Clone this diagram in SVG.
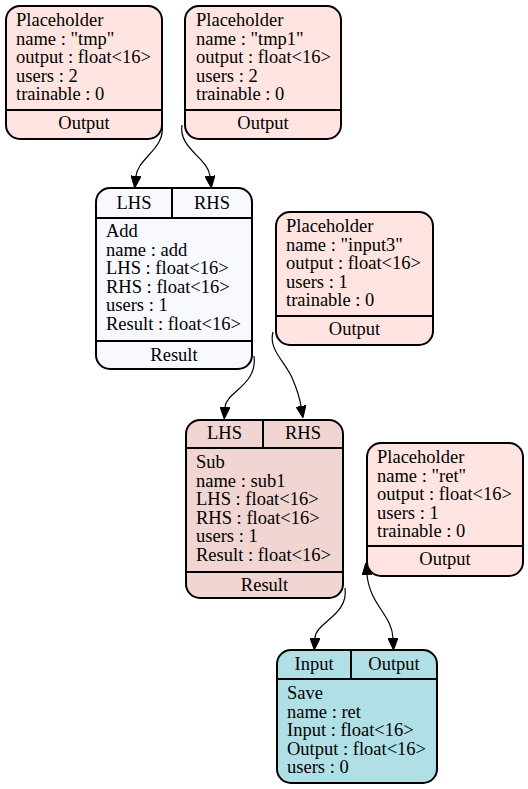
<svg xmlns="http://www.w3.org/2000/svg" width="528" height="789" viewBox="0 0 528 789">
<style>
.box{stroke:#000;stroke-width:2;}
.ph{fill:#ffe4e1;}
.add{fill:#f8f8ff;}
.sub{fill:#f0d5d2;}
.save{fill:#b0e0e6;}
.div{stroke:#000;stroke-width:2;fill:none;}
text{font-family:"Liberation Serif","Times New Roman",serif;font-size:18.5px;fill:#000;}
.c{text-anchor:middle;}
.edge{fill:none;stroke:#000;stroke-width:1.2;}
</style>
<defs>
<marker id="arr" viewBox="0 0 12 10" refX="0" refY="5" markerWidth="12" markerHeight="10" markerUnits="userSpaceOnUse" orient="auto-start-reverse">
<path d="M0,0 L12,5 L0,10 z" fill="#000" stroke="#000" stroke-width="1"/>
</marker>
</defs>
<rect width="528" height="789" fill="#fff"/>
<g id="edges">
<path class="edge" d="M162,125 C166,148 138,158 136,176" marker-end="url(#arr)"/>
<path class="edge" d="M182,125 C178,148 208,158 210,176" marker-end="url(#arr)"/>
<path class="edge" d="M254,356 C258,385 226,392 225,407" marker-end="url(#arr)"/>
<path class="edge" d="M273,332 C268,350 286,362 293,380 C298,392 300,400 301,406" marker-end="url(#arr)"/>
<path class="edge" d="M345,588 C349,615 316,622 315,638" marker-end="url(#arr)"/>
<path class="edge" d="M367,575 C370,605 392,615 393,638" marker-start="url(#arr)" marker-end="url(#arr)"/>
</g>
<g id="tmp">
<rect class="box ph" x="6" y="6" width="156" height="133" rx="14"/>
<line class="div" x1="6" y1="110" x2="162" y2="110"/>
<text x="16" y="26">Placeholder</text>
<text x="16" y="44.6">name : "tmp"</text>
<text x="16" y="63.2">output : float&lt;16&gt;</text>
<text x="16" y="81.8">users : 2</text>
<text x="16" y="100.4">trainable : 0</text>
<text class="c" x="84" y="129">Output</text>
</g>
<g id="tmp1">
<rect class="box ph" x="185" y="6" width="156" height="133" rx="14"/>
<line class="div" x1="185" y1="110" x2="341" y2="110"/>
<text x="196" y="26">Placeholder</text>
<text x="196" y="44.6">name : "tmp1"</text>
<text x="196" y="63.2">output : float&lt;16&gt;</text>
<text x="196" y="81.8">users : 2</text>
<text x="196" y="100.4">trainable : 0</text>
<text class="c" x="263" y="129">Output</text>
</g>
<g id="add">
<rect class="box add" x="96" y="188" width="156" height="181" rx="14"/>
<line class="div" x1="96" y1="218" x2="252" y2="218"/>
<line class="div" x1="172" y1="188" x2="172" y2="218"/>
<line class="div" x1="96" y1="341" x2="252" y2="341"/>
<text class="c" x="134" y="209">LHS</text>
<text class="c" x="212" y="209">RHS</text>
<text x="106" y="237">Add</text>
<text x="106" y="255.6">name : add</text>
<text x="106" y="274.2">LHS : float&lt;16&gt;</text>
<text x="106" y="292.8">RHS : float&lt;16&gt;</text>
<text x="106" y="311.4">users : 1</text>
<text x="106" y="330">Result : float&lt;16&gt;</text>
<text class="c" x="174" y="361">Result</text>
</g>
<g id="input3">
<rect class="box ph" x="276" y="212" width="157" height="133" rx="14"/>
<line class="div" x1="276" y1="316" x2="433" y2="316"/>
<text x="286" y="232">Placeholder</text>
<text x="286" y="250.6">name : "input3"</text>
<text x="286" y="269.2">output : float&lt;16&gt;</text>
<text x="286" y="287.8">users : 1</text>
<text x="286" y="306.4">trainable : 0</text>
<text class="c" x="354.5" y="335">Output</text>
</g>
<g id="sub1">
<rect class="box sub" x="186" y="420" width="157" height="178" rx="14"/>
<line class="div" x1="186" y1="448" x2="343" y2="448"/>
<line class="div" x1="263" y1="420" x2="263" y2="448"/>
<line class="div" x1="186" y1="572" x2="343" y2="572"/>
<text class="c" x="224.5" y="439">LHS</text>
<text class="c" x="303" y="439">RHS</text>
<text x="196" y="468">Sub</text>
<text x="196" y="486.6">name : sub1</text>
<text x="196" y="505.2">LHS : float&lt;16&gt;</text>
<text x="196" y="523.8">RHS : float&lt;16&gt;</text>
<text x="196" y="542.4">users : 1</text>
<text x="196" y="561">Result : float&lt;16&gt;</text>
<text class="c" x="264.5" y="591">Result</text>
</g>
<g id="ret">
<rect class="box ph" x="367" y="443" width="156" height="133" rx="14"/>
<line class="div" x1="367" y1="546" x2="523" y2="546"/>
<text x="377" y="463">Placeholder</text>
<text x="377" y="481.6">name : "ret"</text>
<text x="377" y="500.2">output : float&lt;16&gt;</text>
<text x="377" y="518.8">users : 1</text>
<text x="377" y="537.4">trainable : 0</text>
<text class="c" x="445" y="565">Output</text>
</g>
<g id="save">
<rect class="box save" x="277" y="650" width="160" height="133" rx="14"/>
<line class="div" x1="277" y1="679" x2="437" y2="679"/>
<line class="div" x1="351" y1="650" x2="351" y2="679"/>
<text class="c" x="314" y="670">Input</text>
<text class="c" x="394" y="670">Output</text>
<text x="287" y="699">Save</text>
<text x="287" y="717.6">name : ret</text>
<text x="287" y="736.2">Input : float&lt;16&gt;</text>
<text x="287" y="754.8">Output : float&lt;16&gt;</text>
<text x="287" y="773.4">users : 0</text>
</g>
</svg>
